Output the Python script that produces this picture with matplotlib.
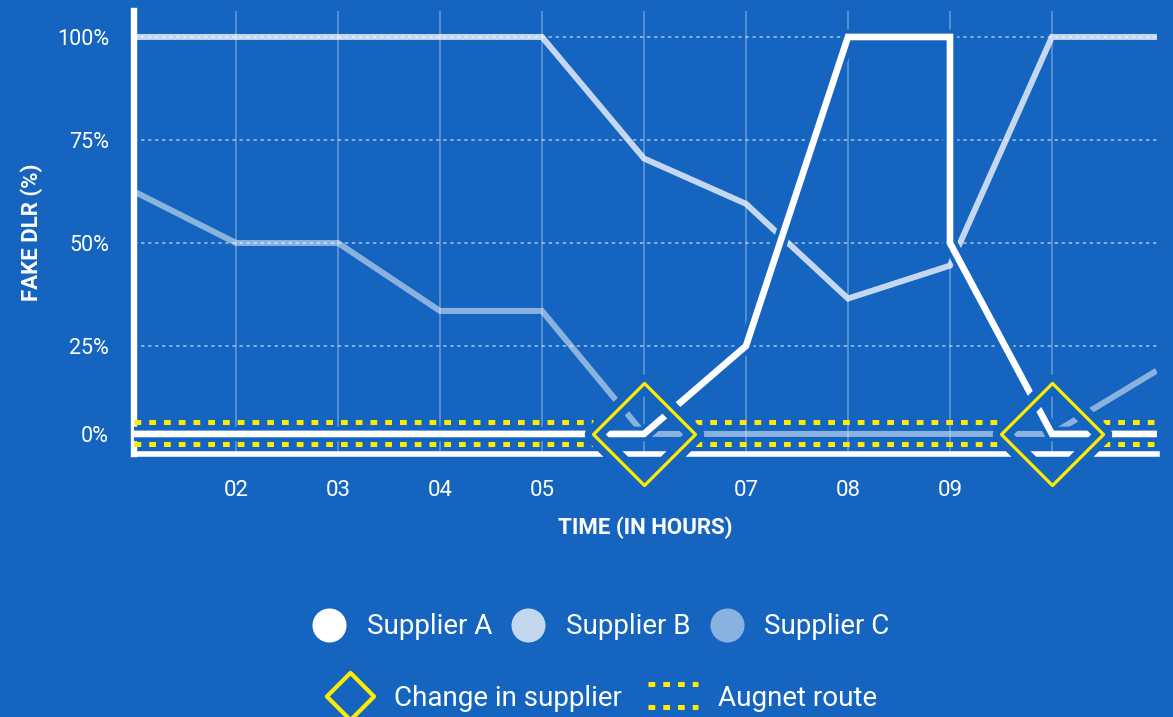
import numpy as np
import matplotlib.pyplot as plt
import matplotlib.patheffects as pe
from matplotlib import transforms
from matplotlib.lines import Line2D
from matplotlib.markers import MarkerStyle
from matplotlib.path import Path
from matplotlib.legend_handler import HandlerBase

plt.rcParams['font.family'] = ['Roboto', 'DejaVu Sans']

BG = '#1565C0'
YELLOW = '#FFEB00'

# data (hours on x, fake DLR in % on y)
hours = [1, 2, 3, 4, 5, 6, 7, 8, 9, 10, 11]
supplier_a_hours = [1, 2, 3, 4, 5, 6, 7, 8, 9, 9, 10, 11]
supplier_a = [0, 0, 0, 0, 0, 0, 25, 100, 100, 50, 0, 0]
supplier_b = [100, 100, 100, 100, 100, 70.5, 59.5, 36.5, 44.5, 100, 100]
supplier_c = [62.5, 50, 50, 33.5, 33.5, 0, 0, 0, 0, 0, 17.5]
change_hours = [6, 10]
change_level = [0, 0]
route_start = [1, 6.5, 10.5]
route_end = [5.5, 9.5, 11]
route_level = 0

tick_hours = [2, 3, 4, 5, 6, 7, 8, 9, 10]
tick_labels = ['02', '03', '04', '05', '', '07', '08', '09', '']
pct_ticks = [0, 25, 50, 75, 100]
pct_labels = ['0%', '25%', '50%', '75%', '100%']
supplier_names = ['Supplier A', 'Supplier B', 'Supplier C']
supplier_alpha = [1.0, 0.75, 0.5]


# the bottom band (0-25%) is drawn a bit tighter than the rest
def fwd(v):
    return np.interp(v, [-100, 0, 25, 100, 200], [-352, 0, 88, 397, 809])


def inv(v):
    return np.interp(v, [-352, 0, 88, 397, 809], [-100, 0, 25, 100, 200])


class RouteHandler(HandlerBase):
    def create_artists(self, legend, orig_handle, xdescent, ydescent,
                       width, height, fontsize, trans):
        yc = height / 2 - ydescent
        arts = []
        for dy in (8.3, -8.3):
            l = Line2D([-xdescent, -xdescent + width], [yc + dy, yc + dy],
                       color=YELLOW, lw=3.6, linestyle=(0, (1.35, 1.6)),
                       dash_capstyle='butt')
            l.set_transform(trans)
            arts.append(l)
        return arts


fig = plt.figure(figsize=(11.73, 7.17), dpi=100, facecolor=BG)
ax = fig.add_axes([134 / 1173, 1 - 454 / 717, 1023 / 1173, 443 / 717])
ax.set_facecolor(BG)
ax.set_yscale('function', functions=(fwd, inv))
ax.set_xlim(1, 11.03)
ax.set_ylim(-5.7, 106.3)

# grid
for h in tick_hours:
    ax.axvline(h, color='white', alpha=0.35, lw=1.1, zorder=1)
for p in pct_ticks[1:]:
    ax.axhline(p, color='white', alpha=0.6, lw=1.1, linestyle=(0, (2.2, 2.4)), zorder=1)

# supplier lines
ax.plot(hours, supplier_c, color='white', alpha=supplier_alpha[2], lw=4.3,
        zorder=3, solid_joinstyle='miter')
ax.plot(hours, supplier_b, color='white', alpha=supplier_alpha[1], lw=4.3,
        zorder=4, solid_joinstyle='miter')
ax.plot(supplier_a_hours, supplier_a, color='white', lw=4.8, zorder=5,
        solid_joinstyle='miter',
        path_effects=[pe.Stroke(linewidth=10.5, foreground=BG), pe.Normal()])

# Augnet route: two dotted rails around the zero level
up = transforms.offset_copy(ax.transData, fig=fig, y=12, units='dots')
down = transforms.offset_copy(ax.transData, fig=fig, y=-10, units='dots')
for s, e in zip(route_start, route_end):
    for tr in (up, down):
        ax.plot([s, e], [route_level, route_level], color=YELLOW, lw=3.6,
                linestyle=(0, (1.35, 1.6)), dash_capstyle='butt',
                transform=tr, zorder=6)

# change-in-supplier diamonds
diamond = Path([(0, 1), (1, 0), (0, -1), (-1, 0), (0, 1)], closed=True)
ax.plot(change_hours, change_level, ls='none',
        marker=MarkerStyle(diamond, joinstyle='round'), ms=73.5,
        mfc='none', mec='#135FB8', mew=12.5, zorder=7, clip_on=False)
ax.plot(change_hours, change_level, ls='none',
        marker=MarkerStyle(diamond, joinstyle='round'), ms=73.5,
        mfc='none', mec=BG, mew=11.5, zorder=8, clip_on=False)
ax.plot(change_hours, change_level, ls='none', marker=diamond, ms=73.5,
        mfc='none', mec=YELLOW, mew=2.3, zorder=9, clip_on=False)

# axes styling
for side in ('top', 'right'):
    ax.spines[side].set_visible(False)
ax.spines['left'].set_color('white')
ax.spines['left'].set_linewidth(4.6)
ax.spines['bottom'].set_color('white')
ax.spines['bottom'].set_linewidth(4.0)
for side in ('left', 'bottom'):
    ax.spines[side].set_capstyle('projecting')
    ax.spines[side].set_zorder(2.5)

ax.set_xticks(tick_hours)
ax.set_xticklabels(tick_labels)
ax.set_yticks(pct_ticks)
ax.set_yticklabels(pct_labels)
ax.minorticks_off()
ax.tick_params(axis='x', length=0, pad=19, labelsize=16, labelcolor='white')
ax.tick_params(axis='y', length=0, pad=18, labelsize=15.5, labelcolor='white')

ax.set_xlabel('TIME (IN HOURS)', color='white', fontsize=16, fontweight='bold')
ax.xaxis.label.set_va('center')
ax.xaxis.set_label_coords(0.5, (454 - 528) / 443)
ax.set_ylabel('FAKE DLR (%)', color='white', fontsize=16, fontweight='bold')
ax.yaxis.label.set_va('center')
ax.yaxis.set_label_coords((32 - 134) / 1023, 0.5)

# legends
row1 = [Line2D([], [], ls='none', marker='o', ms=24.5, mfc='white', mec='none', alpha=a)
        for a in supplier_alpha]
fig.legend(row1, supplier_names, loc='center',
           bbox_to_anchor=(601 / 1173, 1 - 627 / 717), ncol=3, frameon=False,
           fontsize=20, labelcolor='white', handlelength=1.22,
           handletextpad=0.75, columnspacing=0.68, borderpad=0, borderaxespad=0)

change_handle = Line2D([], [], ls='none', marker=diamond, ms=34, mfc='none',
                       mec=YELLOW, mew=3)
route_handle = Line2D([], [], color=YELLOW)
fig.legend([change_handle, route_handle], ['Change in supplier', 'Augnet route'],
           loc='center', bbox_to_anchor=(601 / 1173, 1 - 698 / 717), ncol=2,
           frameon=False, fontsize=20, labelcolor='white', handlelength=1.8,
           handletextpad=0.7, columnspacing=0.94, borderpad=0, borderaxespad=0,
           handler_map={route_handle: RouteHandler()})

fig.savefig('out.png', dpi=100, facecolor=BG)
